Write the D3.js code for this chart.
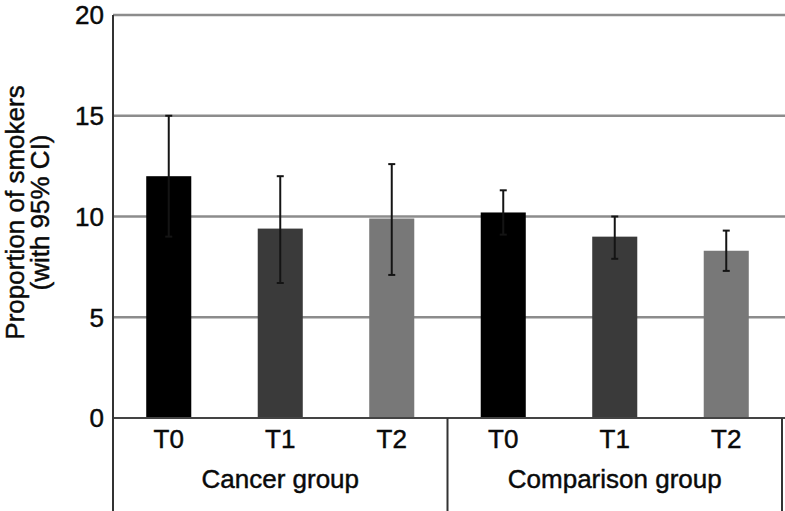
<!DOCTYPE html>
<html>
<head>
<meta charset="utf-8">
<script src="https://cdn.jsdelivr.net/npm/d3@7"></script>
<style>
  html, body { margin: 0; padding: 0; background: #fff; }
  svg text { font-family: "Liberation Sans", Arial, Helvetica, sans-serif; fill: #0a0a0a; stroke: #0a0a0a; stroke-width: 0.45px; }
</style>
</head>
<body>
<svg id="chart" width="785" height="511"></svg>
<script>
const groups = ["Cancer group", "Comparison group"];
const times = ["T0", "T1", "T2"];
const cancerValues = [12.0, 9.4, 9.9];
const cancerLower = [9.0, 6.7, 7.1];
const cancerUpper = [15.0, 12.0, 12.6];
const comparisonValues = [10.2, 9.0, 8.3];
const comparisonLower = [9.1, 7.9, 7.3];
const comparisonUpper = [11.3, 10.0, 9.3];
const yTicks = [0, 5, 10, 15, 20];
const timeColors = ["#000000", "#3a3a3a", "#787878"];

const data = [];
groups.forEach((g, gi) => {
  const v = gi === 0 ? cancerValues : comparisonValues;
  const lo = gi === 0 ? cancerLower : comparisonLower;
  const hi = gi === 0 ? cancerUpper : comparisonUpper;
  times.forEach((t, ti) => data.push({ group: g, time: t, value: v[ti], lo: lo[ti], hi: hi[ti] }));
});

const svg = d3.select("#chart");
const mLeft = 113, mRight = 782, mTop = 15, mBottom = 418, H = 511;
const fs = 26;

const x0 = d3.scaleBand().domain(groups).range([mLeft, mRight]).padding(0);
const x1 = d3.scaleBand().domain(times).range([0, x0.bandwidth()])
  .paddingInner(0.596).paddingOuter(0.298);
const y = d3.scaleLinear().domain([0, 20]).range([mBottom, mTop]);
const color = d3.scaleOrdinal().domain(times).range(timeColors);

// gridlines
svg.append("g").selectAll("line").data(yTicks.filter(d => d > 0)).join("line")
  .attr("x1", mLeft).attr("x2", 785)
  .attr("y1", d => y(d)).attr("y2", d => y(d))
  .attr("stroke", "#8c8c8c").attr("stroke-width", 2.5);

// y tick labels
svg.append("g").selectAll("text").data(yTicks).join("text")
  .attr("x", 104).attr("y", d => y(d)).attr("dy", "0.36em")
  .attr("text-anchor", "end").attr("font-size", fs)
  .text(d => d);

// bars
const bx = d => x0(d.group) + x1(d.time);
svg.append("g").selectAll("rect").data(data).join("rect")
  .attr("x", bx).attr("width", x1.bandwidth())
  .attr("y", d => y(d.value)).attr("height", d => y(0) - y(d.value))
  .attr("fill", d => color(d.time));

// error bars
const eb = svg.append("g").attr("stroke", "#141414").attr("stroke-width", 2);
const cx = d => bx(d) + x1.bandwidth() / 2;
eb.selectAll("line.v").data(data).join("line").attr("class", "v")
  .attr("x1", cx).attr("x2", cx).attr("y1", d => y(d.lo)).attr("y2", d => y(d.hi));
eb.selectAll("line.t").data(data).join("line").attr("class", "t")
  .attr("x1", d => cx(d) - 3.5).attr("x2", d => cx(d) + 3.5)
  .attr("y1", d => y(d.hi)).attr("y2", d => y(d.hi));
eb.selectAll("line.b").data(data).join("line").attr("class", "b")
  .attr("x1", d => cx(d) - 3.5).attr("x2", d => cx(d) + 3.5)
  .attr("y1", d => y(d.lo)).attr("y2", d => y(d.lo));

// zero line
svg.append("line").attr("x1", mLeft).attr("x2", 785).attr("y1", y(0)).attr("y2", y(0))
  .attr("stroke", "#444").attr("stroke-width", 2);

// left axis
svg.append("line").attr("x1", mLeft).attr("x2", mLeft).attr("y1", mTop).attr("y2", H)
  .attr("stroke", "#333").attr("stroke-width", 2);

// group separators below axis
svg.append("g").selectAll("line").data([x0(groups[1]), mRight]).join("line")
  .attr("x1", d => d).attr("x2", d => d).attr("y1", y(0)).attr("y2", H)
  .attr("stroke", "#333").attr("stroke-width", 2);

// time labels
svg.append("g").selectAll("text").data(data).join("text")
  .attr("x", cx).attr("y", 448).attr("text-anchor", "middle").attr("font-size", fs)
  .text(d => d.time);

// group labels
svg.append("g").selectAll("text").data(groups).join("text")
  .attr("x", d => x0(d) + x0.bandwidth() / 2).attr("y", 488)
  .attr("text-anchor", "middle").attr("font-size", fs)
  .text(d => d);

// y title
const yt = svg.append("text").attr("transform", `translate(24,${(mTop + mBottom) / 2 - 4}) rotate(-90)`)
  .attr("text-anchor", "middle").attr("font-size", fs);
yt.append("tspan").attr("x", 0).attr("y", 0).text("Proportion of smokers");
yt.append("tspan").attr("x", 0).attr("y", 25).text("(with 95% CI)");
</script>
</body>
</html>
